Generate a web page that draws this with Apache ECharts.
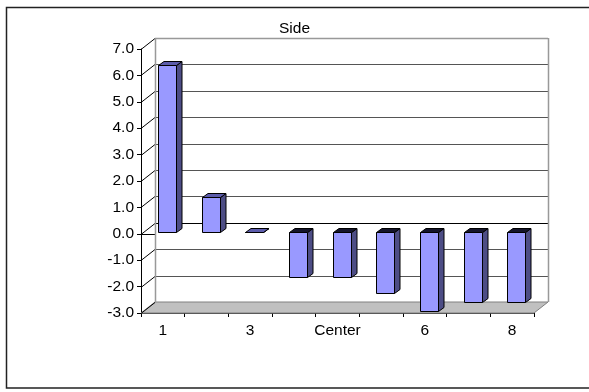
<!DOCTYPE html>
<html>
<head>
<meta charset="utf-8">
<script src="https://cdn.jsdelivr.net/npm/echarts@6/dist/echarts.min.js"></script>
<style>
  html, body { margin: 0; padding: 0; background: #fff; }
  #chart { width: 589px; height: 392px; }
</style>
</head>
<body>
<div id="chart"></div>
<script>
// Category labels along the bottom axis
const categories = ['1', '2', '3', '4', 'Center', '5', '6', '7', '8'];
// Bar heights for the "Side" series
const sideValues = [6.3, 1.3, 0.0, -1.7, -1.7, -2.3, -3.0, -2.65, -2.65];
// Value-axis range and tick positions
const yMin = -3;
const yMax = 7;
const yStep = 1;
const yTicks = [-3, -2, -1, 0, 1, 2, 3, 4, 5, 6, 7];

// Perspective offset of the back wall relative to the front plane
const DX = 14, DY = -11;
// Bar geometry: front-face shift and extrusion depth
const BAR_SHIFT_X = 4, BAR_SHIFT_Y = -2, BAR_W = 18, BAR_DX = 5.5, BAR_DY = -4;

const FONT = 'Liberation Sans, Arial, sans-serif';
const FONT_SIZE = 15.5;

function renderWalls(params, api) {
  const cs = params.coordSys;
  const L = cs.x, R = cs.x + cs.width, T = cs.y, B = cs.y + cs.height;
  const kids = [];
  // back wall
  kids.push({ type: 'polygon', shape: { points: [[L + DX, T + DY], [R + DX, T + DY], [R + DX, B + DY], [L + DX, B + DY]] },
    style: { fill: '#ffffff' } });
  // floor
  kids.push({ type: 'polygon', shape: { points: [[L, B], [L + DX, B + DY], [R + DX, B + DY], [R, B]] },
    style: { fill: '#c0c0c0', stroke: '#808080', lineWidth: 1 } });
  yTicks.forEach(function (v) {
    const y = Math.round(api.coord([0, v])[1]) + 0.5;
    if (v > yMin) {
      kids.push({ type: 'line', shape: { x1: L + DX, y1: y + DY, x2: R + DX, y2: y + DY },
        style: { stroke: v === 0 ? '#000000' : (v === yMax ? '#999999' : '#555555'), lineWidth: v === yMax ? 1.5 : 1 } });
    }
    // side-wall gridline
    kids.push({ type: 'line', shape: { x1: L, y1: y, x2: L + DX, y2: y + DY },
      style: { stroke: '#000000', lineWidth: 1 } });
  });
  // wall edges
  kids.push({ type: 'line', shape: { x1: L + DX + 0.5, y1: T + DY, x2: L + DX + 0.5, y2: B + DY },
    style: { stroke: '#999999', lineWidth: 1.5 } });
  kids.push({ type: 'line', shape: { x1: R + DX + 0.5, y1: T + DY, x2: R + DX + 0.5, y2: B + DY },
    style: { stroke: '#999999', lineWidth: 1.5 } });
  return { type: 'group', children: kids };
}

function renderBar(params, api) {
  const idx = api.value(0);
  const val = api.value(1);
  const base = api.coord([idx, 0]);
  const tip = api.coord([idx, val]);
  const x1 = Math.round(base[0] - BAR_W / 2 + BAR_SHIFT_X) + 0.5;
  const x2 = x1 + BAR_W;
  const ya = base[1] + BAR_SHIFT_Y, yb = tip[1] + BAR_SHIFT_Y;
  const yTop = Math.round(Math.min(ya, yb)) + 0.5;
  const yBot = Math.round(Math.max(ya, yb)) + 0.5;
  const line = { stroke: '#000000', lineWidth: 1, lineJoin: 'miter' };
  return {
    type: 'group',
    children: [
      { type: 'polygon', shape: { points: [[x2, yTop], [x2 + BAR_DX, yTop + BAR_DY], [x2 + BAR_DX, yBot + BAR_DY], [x2, yBot]] },
        style: Object.assign({ fill: '#4d4d85' }, line) },
      { type: 'polygon', shape: { points: [[x1, yTop], [x1 + BAR_DX, yTop + BAR_DY], [x2 + BAR_DX, yTop + BAR_DY], [x2, yTop]] },
        style: Object.assign({ fill: val < 0 ? '#14142a' : '#5c5cab' }, line) },
      { type: 'rect', shape: { x: x1, y: yTop, width: BAR_W, height: yBot - yTop },
        style: Object.assign({ fill: '#9999ff' }, line) }
    ]
  };
}

const chart = echarts.init(document.getElementById('chart'), null, { renderer: 'canvas' });
chart.setOption({
  animation: false,
  backgroundColor: '#ffffff',
  title: {
    text: 'Side', left: 'center', top: 16,
    textStyle: { fontFamily: FONT, fontSize: FONT_SIZE, fontWeight: 'normal', color: '#000' }
  },
  graphic: [{
    type: 'rect', shape: { x: 6.5, y: 7.5, width: 620, height: 380.5 },
    style: { fill: null, stroke: '#222', lineWidth: 1.5 }, silent: true, z: 100
  }],
  grid: { left: 141, top: 49, width: 393, height: 264 },
  xAxis: [{
    type: 'category', data: categories, position: 'bottom',
    axisLine: { onZero: false, lineStyle: { color: '#333', width: 1 } },
    axisTick: { show: true, interval: 0, length: 4, lineStyle: { color: '#000' } },
    axisLabel: { interval: 1, margin: 10, fontFamily: FONT, fontSize: FONT_SIZE, color: '#000' },
    splitLine: { show: false }
  }, {
    type: 'category', data: categories, position: 'bottom', gridIndex: 0,
    axisLine: { onZero: true, lineStyle: { color: '#000', width: 1 } },
    axisTick: { show: true, interval: 0, length: 4, lineStyle: { color: '#000' } },
    axisLabel: { show: false },
    splitLine: { show: false }
  }],
  yAxis: {
    type: 'value', min: yMin, max: yMax, interval: yStep,
    axisLine: { show: true, lineStyle: { color: '#000', width: 1 } },
    axisTick: { show: true, length: 4, lineStyle: { color: '#000' } },
    axisLabel: { margin: 7, fontFamily: FONT, fontSize: FONT_SIZE, color: '#000',
      formatter: function (v) { return v.toFixed(1); } },
    splitLine: { show: false }
  },
  series: [{
    type: 'custom', name: 'walls', xAxisIndex: 0, renderItem: renderWalls,
    data: [[0, 0]], z: 1, silent: true
  }, {
    type: 'custom', name: 'Side', xAxisIndex: 0, renderItem: renderBar,
    data: sideValues.map(function (v, i) { return [i, v]; }),
    encode: { x: 0, y: 1 }, z: 5
  }]
});
</script>
</body>
</html>
